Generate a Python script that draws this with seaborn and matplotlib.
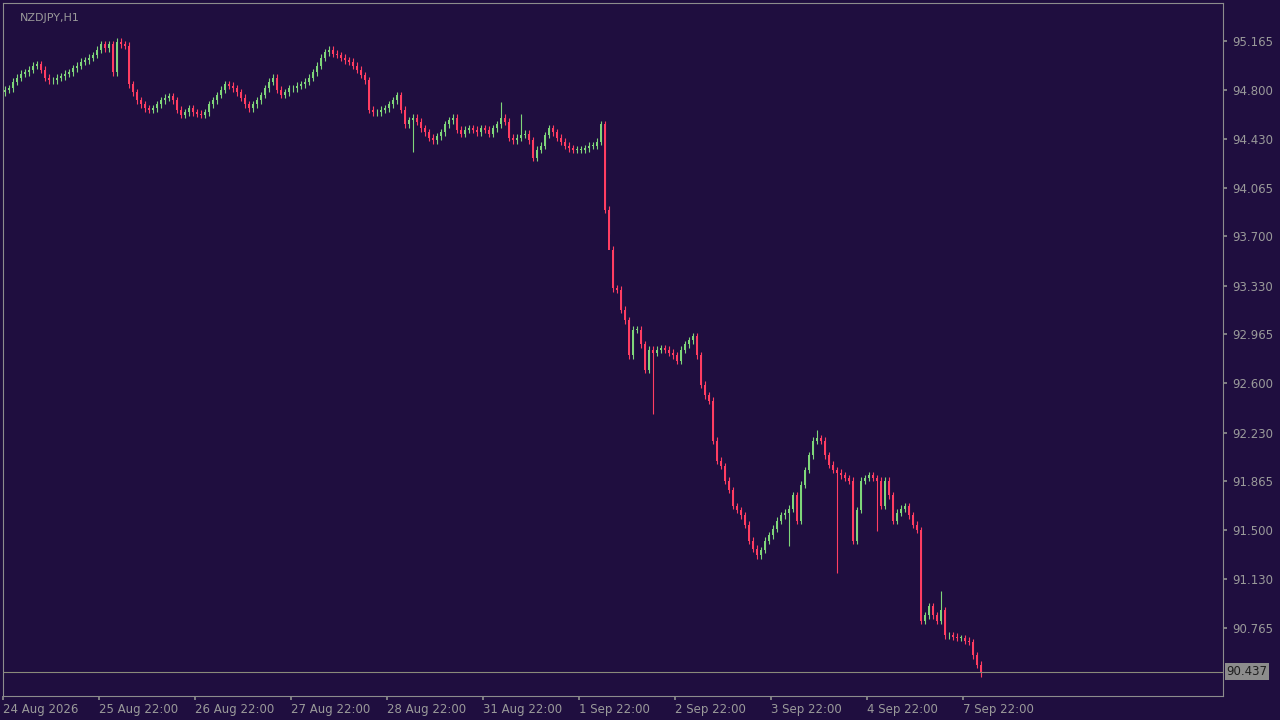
import numpy as np
import matplotlib
matplotlib.use("Agg")
import matplotlib.pyplot as plt
import seaborn as sns

# hourly closes, NZDJPY H1
closes = [
    94.80, 94.81, 94.86, 94.89, 94.92, 94.93, 94.95, 94.98, 94.99, 94.95, 94.89, 94.87,
    94.87, 94.89, 94.90, 94.92, 94.93, 94.96, 94.98, 95.01, 95.02, 95.04, 95.06, 95.10,
    95.14, 95.11, 95.14, 94.93, 95.16, 95.14, 95.13, 94.84, 94.78, 94.72, 94.69, 94.66,
    94.65, 94.66, 94.69, 94.72, 94.74, 94.75, 94.72, 94.65, 94.61, 94.63, 94.66, 94.63,
    94.62, 94.61, 94.63, 94.69, 94.72, 94.76, 94.80, 94.84, 94.83, 94.81, 94.78, 94.74,
    94.69, 94.66, 94.69, 94.72, 94.76, 94.81, 94.86, 94.89, 94.80, 94.76, 94.78, 94.81,
    94.81, 94.83, 94.84, 94.86, 94.89, 94.93, 94.98, 95.04, 95.08, 95.10, 95.07, 95.06,
    95.04, 95.02, 95.01, 94.98, 94.95, 94.91, 94.87, 94.65, 94.63, 94.63, 94.65, 94.66,
    94.69, 94.72, 94.76, 94.65, 94.54, 94.57, 94.59, 94.56, 94.51, 94.48, 94.44, 94.42,
    94.45, 94.48, 94.54, 94.57, 94.59, 94.50, 94.47, 94.50, 94.51, 94.50, 94.48, 94.51,
    94.50, 94.47, 94.51, 94.54, 94.59, 94.56, 94.44, 94.42, 94.44, 94.46, 94.47, 94.42,
    94.29, 94.35, 94.38, 94.46, 94.51, 94.48, 94.44, 94.41, 94.38, 94.36, 94.35, 94.35,
    94.35, 94.36, 94.38, 94.38, 94.41, 94.54, 93.90, 93.60, 93.31, 93.30, 93.15, 93.07,
    92.81, 93.00, 93.00, 92.89, 92.70, 92.85, 92.83, 92.85, 92.86, 92.85, 92.83, 92.81,
    92.77, 92.85, 92.89, 92.92, 92.95, 92.81, 92.59, 92.51, 92.47, 92.17, 92.02, 91.98,
    91.87, 91.80, 91.68, 91.65, 91.61, 91.54, 91.42, 91.36, 91.31, 91.35, 91.42, 91.46,
    91.51, 91.57, 91.61, 91.63, 91.66, 91.76, 91.57, 91.84, 91.95, 92.06, 92.17, 92.19,
    92.17, 92.06, 91.99, 91.95, 91.93, 91.91, 91.89, 91.87, 91.42, 91.65, 91.87, 91.89,
    91.91, 91.89, 91.87, 91.68, 91.87, 91.76, 91.57, 91.63, 91.66, 91.68, 91.61, 91.54,
    91.50, 90.82, 90.86, 90.93, 90.86, 90.82, 90.90, 90.71, 90.71, 90.70, 90.69, 90.69,
    90.67, 90.66, 90.56, 90.49, 90.437,
]
first_open = 94.78
# notable wick extremes: (candle index, low) and (candle index, high)
spike_lows = [(102, 94.33), (151, 93.72), (162, 92.37), (196, 91.38), (208, 91.18), (218, 91.49), (244, 90.40)]
spike_highs = [(124, 94.71), (129, 94.62), (203, 92.25), (234, 91.04)]

price_ticks = [95.165, 94.800, 94.430, 94.065, 93.700, 93.330, 92.965, 92.600,
               92.230, 91.865, 91.500, 91.130, 90.765]
date_labels = ["24 Aug 2026", "25 Aug 22:00", "26 Aug 22:00", "27 Aug 22:00", "28 Aug 22:00",
               "31 Aug 22:00", "1 Sep 22:00", "2 Sep 22:00", "3 Sep 22:00", "4 Sep 22:00",
               "7 Sep 22:00"]
last_price = 90.437

bg = "#1f0e3f"
up_col = "#7fd67a"
dn_col = "#ff3d62"
txt = "#9a9a9a"

sns.set_theme(style="dark", rc={"axes.facecolor": bg, "figure.facecolor": bg})
plt.rcParams['font.family'] = ['DejaVu Sans']

closes = np.array(closes)
opens = np.concatenate([[first_open], closes[:-1]])
highs = np.maximum(opens, closes) + 0.025
lows = np.minimum(opens, closes) - 0.025
for i, v in spike_lows:
    lows[i] = v
for i, v in spike_highs:
    highs[i] = v
idx = np.arange(len(closes))
colors = np.where(closes >= opens, up_col, dn_col)

fig = plt.figure(figsize=(12.8, 7.2), dpi=100)
ax = fig.add_axes([3 / 1280, 24 / 720, 1220 / 1280, 693 / 720])
ax.vlines(idx, lows, highs, colors=colors, linewidth=0.8)
body = np.maximum(np.abs(closes - opens), 0.006)
ax.bar(idx, body, bottom=np.minimum(opens, closes), width=0.7, color=colors, linewidth=0)

ax.axhline(last_price, color="#8a8a7a", linewidth=0.8)
ax.set_xlim(-0.5, 304.5)
ax.set_ylim(90.255, 95.45)
ax.grid(False)
for s in ax.spines.values():
    s.set_color("#8c8c8c")
    s.set_linewidth(0.8)

ax.yaxis.tick_right()
ax.set_yticks(price_ticks)
ax.set_yticklabels([f"{p:.3f}" for p in price_ticks], color=txt, fontsize=8.5)
ax.tick_params(axis="y", length=3, color="#8c8c8c", pad=4, right=True)
ax.set_xticks(np.arange(len(date_labels)) * 24 - 0.5)
ax.set_xticklabels(date_labels, color=txt, fontsize=8.5, ha="left")
ax.tick_params(axis="x", length=3, color="#8c8c8c", pad=2, bottom=True)

ax.text(1.003, last_price, f"{last_price:.3f}", transform=ax.get_yaxis_transform(),
        color="#1f1f1f", fontsize=8.5, va="center", ha="left",
        bbox=dict(boxstyle="square,pad=0.15", fc="#8c8c8c", ec="none"))
ax.text(0.014, 0.986, "NZDJPY,H1", transform=ax.transAxes, color=txt, fontsize=8,
        va="top", ha="left")

fig.savefig("out.png", dpi=100, facecolor=bg)
